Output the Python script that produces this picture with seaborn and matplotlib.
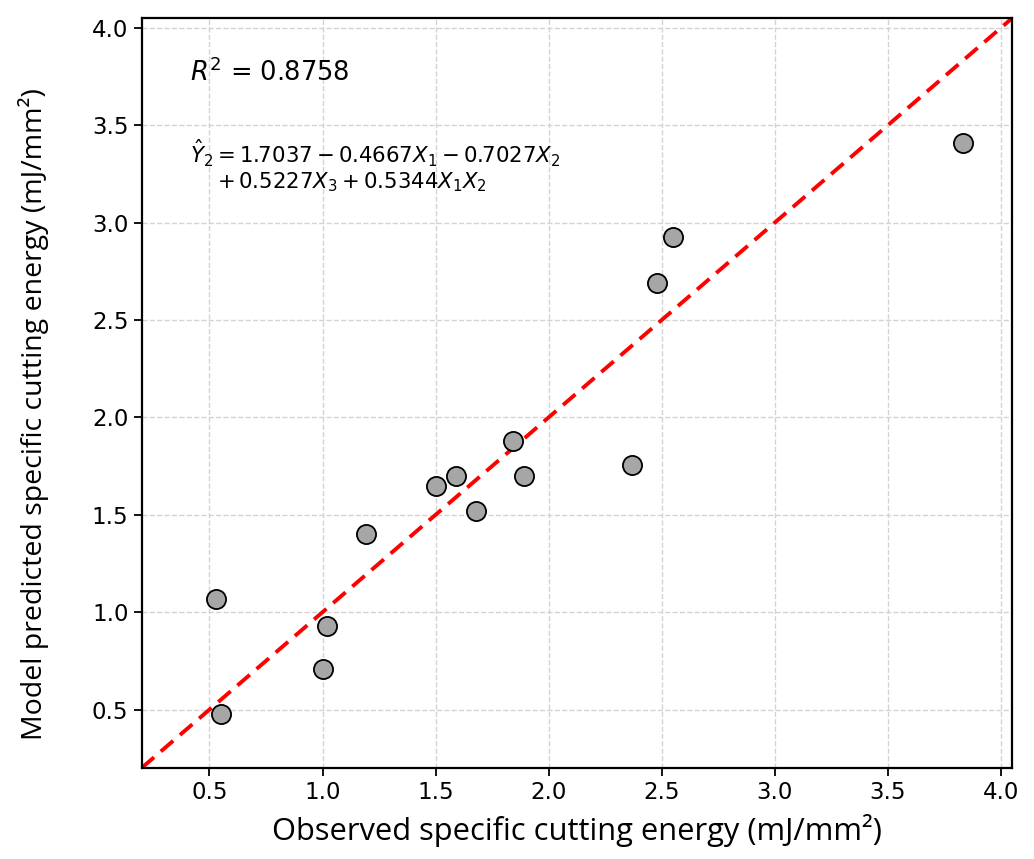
import matplotlib
matplotlib.use("Agg")
import matplotlib.pyplot as plt
import seaborn as sns
import pandas as pd

# --- Data ---
observed = [0.53, 0.55, 1.00, 1.02, 1.19, 1.50, 1.59, 1.68, 1.84, 1.89, 2.37, 2.48, 2.55, 3.83]
predicted = [1.065, 0.475, 0.71, 0.93, 1.40, 1.645, 1.70, 1.52, 1.88, 1.70, 1.757, 2.69, 2.927, 3.407]
axis_limits = [0.2, 4.05]
tick_values = [0.5, 1.0, 1.5, 2.0, 2.5, 3.0, 3.5, 4.0]
r2_label = r"$R^2$ = 0.8758"
eq_line1 = r"$\hat{Y}_2 = 1.7037 - 0.4667X_1 - 0.7027X_2$"
eq_line2 = r"$+\, 0.5227X_3 + 0.5344X_1X_2$"

df = pd.DataFrame({"observed": observed, "predicted": predicted})

sns.set_style("ticks")
plt.rcParams["font.family"] = ["DejaVu Sans"]
plt.rcParams["mathtext.fontset"] = "dejavusans"
plt.rcParams["text.color"] = "black"
plt.rcParams["axes.labelcolor"] = "black"
plt.rcParams["xtick.color"] = "black"
plt.rcParams["ytick.color"] = "black"

fig = plt.figure(figsize=(10.34, 8.59), dpi=100)
ax = fig.add_axes([0.137, 0.106, 0.842, 0.873])

ax.grid(True, ls="--", color="#d3d3d3", lw=1.0, zorder=0)
ax.set_axisbelow(True)

# 1:1 reference line
ax.plot(axis_limits, axis_limits, color="red", ls="--", lw=2.8, dashes=(4.2, 2.3), zorder=2)

sns.scatterplot(data=df, x="observed", y="predicted", s=190, color="#a6a6a6",
                edgecolor="black", linewidth=1.3, zorder=3, ax=ax)

ax.set_xlim(axis_limits)
ax.set_ylim(axis_limits)
ax.set_xticks(tick_values)
ax.set_yticks(tick_values)
ax.tick_params(labelsize=16.5, length=6, width=1.3, color="black")
for s in ax.spines.values():
    s.set_linewidth(1.6)
    s.set_color("black")

ax.set_xlabel("Observed specific cutting energy (mJ/mm²)", fontsize=22.2,
              family=["Open Sans", "DejaVu Sans"], labelpad=7)
ax.set_ylabel("Model predicted specific cutting energy (mJ/mm²)", fontsize=20.5,
              family=["Open Sans", "DejaVu Sans"])
ax.yaxis.set_label_coords(-0.106, 0.472)

ax.text(0.055, 0.927, r2_label, transform=ax.transAxes, fontsize=18.5, va="center", ha="left")
ax.text(0.055, 0.82, eq_line1, transform=ax.transAxes, fontsize=15.3, va="center", ha="left")
ax.text(0.087, 0.781, eq_line2, transform=ax.transAxes, fontsize=15.3, va="center", ha="left")

fig.savefig("out.png", dpi=100)
